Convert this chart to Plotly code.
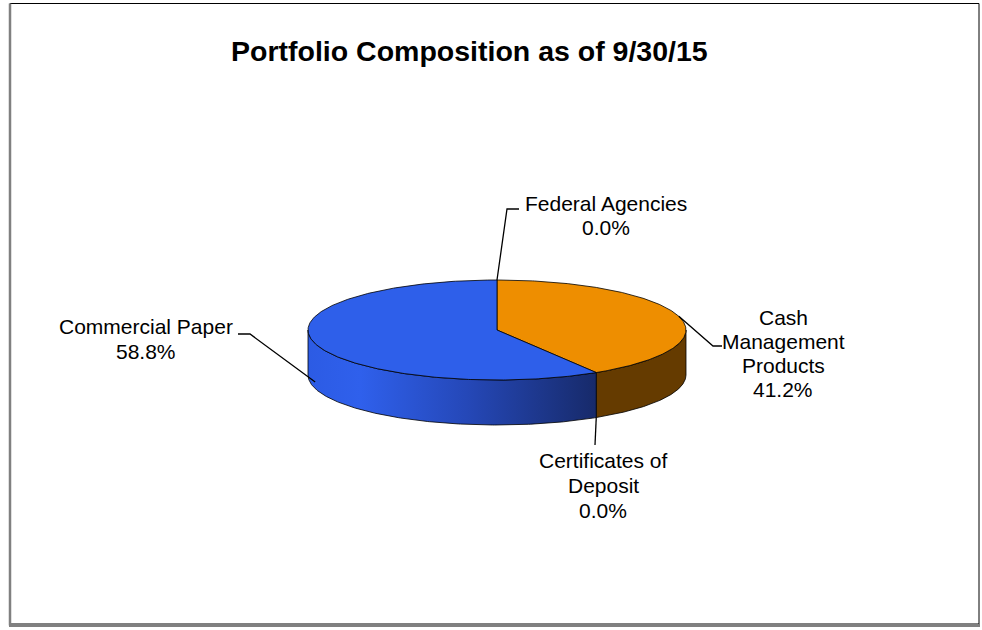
import numpy as np
import plotly.graph_objects as go

# ---------------- data ----------------
categories = ["Federal Agencies", "Cash Management Products", "Certificates of Deposit", "Commercial Paper"]
values = [0.0, 41.2, 0.0, 58.8]
label_lines = [["Federal Agencies"], ["Cash", "Management", "Products"],
               ["Certificates of", "Deposit"], ["Commercial Paper"]]
title_text = "Portfolio Composition as of 9/30/15"

# ---------------- styling / geometry ----------------
W, H = 982, 630
cx, cy, rx, ry, depth = 497, 330, 189, 50, 45
top_colors = {"Federal Agencies": "#7F7F7F", "Cash Management Products": "#EE8E00",
              "Certificates of Deposit": "#7F7F7F", "Commercial Paper": "#2E5FEA"}
side_style = {
    "Cash Management Products": dict(fillcolor="#653B00"),
    "Commercial Paper": dict(grad=[[0, "#2C5BE4"], [0.18, "#2F60EC"], [0.55, "#2548B8"], [1, "#172A6A"]]),
}
FONT = "Liberation Sans, Arial, sans-serif"
# label text placement: (center x, first line y, line step)
label_pos = {
    "Federal Agencies": (606, 203, 24),
    "Cash Management Products": (783, 317, 24),
    "Certificates of Deposit": (603, 460, 25),
    "Commercial Paper": (146, 326, 25),
}
# leader elbows (elbow point, end point near text)
leader_elbow = {
    "Federal Agencies": [(507, 209), (519, 209)],
    "Cash Management Products": [(713, 346), (722, 346)],
    "Certificates of Deposit": [(595, 445)],
    "Commercial Paper": [(250, 334), (238, 334)],
}

total = float(sum(values))
cum = np.concatenate([[0.0], np.cumsum(values)]) / total * 360.0


def ell(theta, dy=0.0):
    t = np.radians(theta)
    return cx + rx * np.sin(t), cy - ry * np.cos(t) + dy


fig = go.Figure()

# side walls (front half: 90..270 degrees clockwise from top)
for i, cat in enumerate(categories):
    a0, a1 = cum[i], cum[i + 1]
    lo, hi = max(a0, 90.0), min(a1, 270.0)
    if hi <= lo or values[i] == 0:
        continue
    th = np.linspace(lo, hi, 200)
    xt, yt = ell(th)
    xb, yb = ell(th[::-1], depth)
    xs = np.concatenate([xt, xb, xt[:1]])
    ys = np.concatenate([yt, yb, yt[:1]])
    st = side_style.get(cat, dict(fillcolor="#333333"))
    kw = dict(x=xs, y=ys, mode="lines", fill="toself",
              line=dict(color="#000000", width=0.8), hoverinfo="skip", showlegend=False)
    if "grad" in st:
        kw["fillgradient"] = dict(type="horizontal", colorscale=st["grad"],
                                  start=float(xs.min()), stop=float(xs.max()))
    else:
        kw["fillcolor"] = st["fillcolor"]
    fig.add_trace(go.Scatter(**kw))

# top faces
for i, cat in enumerate(categories):
    if values[i] == 0:
        continue
    th = np.linspace(cum[i], cum[i + 1], 300)
    xa, ya = ell(th)
    xs = np.concatenate([[cx], xa, [cx]])
    ys = np.concatenate([[cy], ya, [cy]])
    fig.add_trace(go.Scatter(x=xs, y=ys, mode="lines", fill="toself",
                             fillcolor=top_colors[cat],
                             line=dict(color="#000000", width=0.8),
                             hoverinfo="skip", showlegend=False))

# leader lines + labels
annotations = []
for i, cat in enumerate(categories):
    mid = (cum[i] + cum[i + 1]) / 2.0
    ax, ay = ell(mid)
    if 90 < mid < 270:
        ay = ay + (depth if values[i] == 0 else depth * 0.85)
    pts = [(ax, ay)] + leader_elbow[cat]
    fig.add_trace(go.Scatter(x=[p[0] for p in pts], y=[p[1] for p in pts], mode="lines",
                             line=dict(color="#000000", width=1.3),
                             hoverinfo="skip", showlegend=False))
    lx, ly, step = label_pos[cat]
    lines = label_lines[i] + [f"{values[i]:.1f}%"]
    for k, t in enumerate(lines):
        annotations.append(dict(x=lx, y=ly + k * step, xref="x", yref="y", text=t,
                                showarrow=False, xanchor="center", yanchor="middle",
                                font=dict(family=FONT, size=21, color="#000000")))

annotations.append(dict(x=469, y=51, xref="x", yref="y", text=f"<b>{title_text}</b>",
                        showarrow=False, xanchor="center", yanchor="middle",
                        font=dict(family=FONT, size=28.5, color="#000000")))

fig.update_layout(
    width=W, height=H, autosize=False,
    margin=dict(l=0, r=0, t=0, b=0, pad=0),
    paper_bgcolor="#FFFFFF", plot_bgcolor="#FFFFFF",
    xaxis=dict(range=[0, W], visible=False, fixedrange=True),
    yaxis=dict(range=[H, 0], visible=False, fixedrange=True),
    annotations=annotations,
    shapes=[
        dict(type="rect", xref="x", yref="y", x0=10, y0=3.5, x1=979, y1=624,
             line=dict(color="#000000", width=1), layer="below"),
        dict(type="line", xref="x", yref="y", x0=10, y0=3.5, x1=10, y1=625.5,
             line=dict(color="#808080", width=2.5), layer="below"),
        dict(type="line", xref="x", yref="y", x0=9, y0=625.5, x1=980, y1=625.5,
             line=dict(color="#808080", width=3), layer="below"),
    ],
)

fig.write_html("out.html", config={"displayModeBar": False},
               post_script="document.body.style.margin='0';document.body.style.overflow='hidden';")
